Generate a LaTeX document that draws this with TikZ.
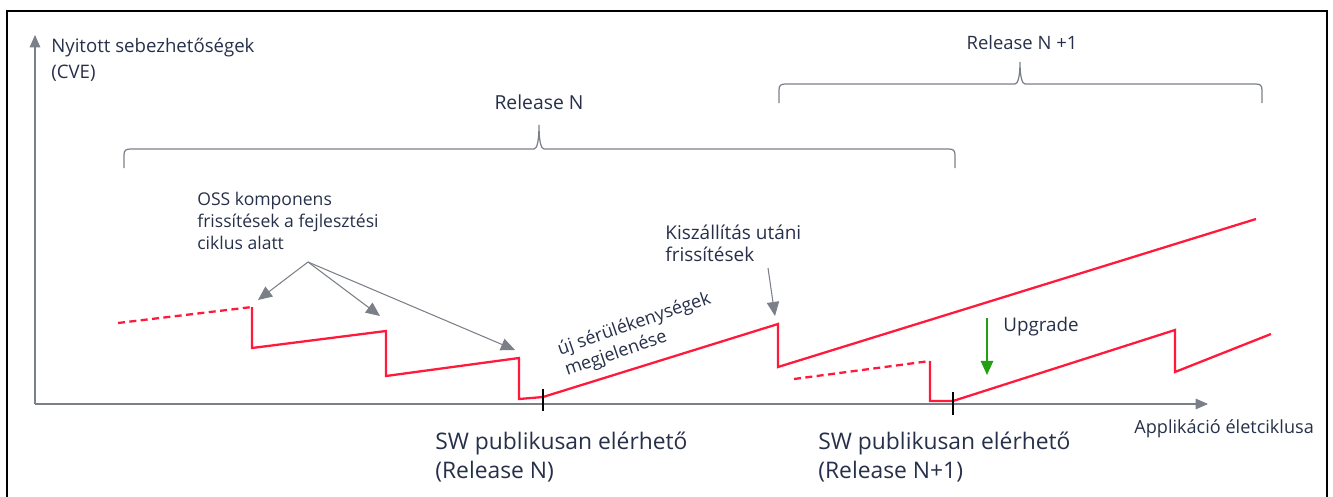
\documentclass[tikz,border=0pt]{standalone}
\usepackage{fontspec}
\setmainfont{Open Sans}
\usepackage{tikz}
\usetikzlibrary{arrows.meta,calc}
\definecolor{txtblue}{HTML}{27304A}
\definecolor{axgray}{HTML}{7B8088}
\definecolor{cvered}{HTML}{FF1A3C}
\definecolor{upgreen}{HTML}{22A012}
\tikzset{
  lbl/.style={text=txtblue, inner sep=0pt, align=left, font=\fontsize{10}{14}\selectfont},
  axis/.style={draw=axgray, line width=0.6pt, -{Triangle[length=7pt,width=6pt]}},
  note/.style={draw=axgray, line width=0.6pt, -{Triangle[length=8pt,width=7pt]}},
  cve/.style={draw=cvered, line width=1.3pt},
  cvedash/.style={cve, dash pattern=on 4pt off 2.5pt},
  relbrace/.style={draw=axgray, line width=0.7pt},
  tick/.style={draw=black, line width=0.8pt}
}
% release brace: left x, right x, tip x, bottom y, flat y, tip y
\newcommand{\relbrace}[6]{%
  \draw[relbrace] (#1,#4) -- (#1,#5+6) .. controls (#1,#5+1) and (#1+2,#5) .. (#1+7,#5)
    -- (#3-5,#5) .. controls (#3-2,#5) and (#3,#5-8) .. (#3,#6)
    .. controls (#3,#5-8) and (#3+2,#5) .. (#3+5,#5)
    -- (#2-7,#5) .. controls (#2-2,#5) and (#2,#5+1) .. (#2,#5+6) -- (#2,#4);}
\begin{document}
\begin{tikzpicture}[x=0.02cm, y=-0.02cm]
\useasboundingbox (0,0) rectangle (1333,497);
% frame
\draw[black, line width=0.7pt] (7,497) -- (7,11) -- (1327,11) -- (1327,497);

% axes
\coordinate (O) at (35,404);
\coordinate (ytop) at (35,35);
\coordinate (xend) at (1208,404);
\draw[axis] (O) -- (ytop);
\draw[axis] (O) -- (xend);
\node[lbl, anchor=base west, font=\fontsize{10.6}{14.5}\selectfont] (ylab) at (51,78) {Nyitott sebezhetőségek\\(CVE)};
\node[lbl, anchor=base west, font=\fontsize{10.3}{12}\selectfont] (xlab) at (1134,433) {Applikáció életciklusa};

% releases
\relbrace{124}{955}{539}{168}{149}{125}
\node[lbl, anchor=base, font=\fontsize{11}{13}\selectfont] (relN) at (539,109) {Release N};
\relbrace{779}{1262}{1020}{103}{84}{62}
\node[lbl, anchor=base, font=\fontsize{10.5}{13}\selectfont] (relN1) at (1022,50) {Release N +1};

% release N curve
\draw[cvedash] (118,323) -- (252,307);
\draw[cve] (252,307) -- (252,348) -- (386,331) -- (386,376) -- (519,358) -- (519,399)
  -- (543,397) -- (778,324) -- (778,367) -- (1256,219);
% release N+1 curve
\draw[cvedash] (794,379) -- (930,361);
\draw[cve] (930,361) -- (930,401) -- (953,401) -- (1175,330) -- (1175,372) -- (1271,334);

% publication ticks
\coordinate (pubN) at (543,404);
\coordinate (pubN1) at (953,404);
\draw[tick] ($(pubN)+(0,-15)$) -- ($(pubN)+(0,7)$);
\draw[tick] ($(pubN1)+(0,-12)$) -- ($(pubN1)+(0,11)$);
\node[lbl, anchor=base west, font=\fontsize{13}{16.5}\selectfont] (swN) at (435,478) {SW publikusan elérhető\\(Release N)};
\node[lbl, anchor=base west, font=\fontsize{13}{16.5}\selectfont] (swN1) at (818,478) {SW publikusan elérhető\\(Release N+1)};

% annotations
\node[lbl, anchor=base west, font=\fontsize{10}{12.5}\selectfont] (oss) at (197,249) {OSS komponens\\frissítések a fejlesztési\\ciklus alatt};
\coordinate (ossfrom) at (308,262);
\coordinate (oss1) at (258,300);
\coordinate (oss2) at (380,316);
\coordinate (oss3) at (515,350);
\foreach \t in {oss1,oss2,oss3}
  \draw[note] (ossfrom) -- (\t);

\node[lbl, anchor=base west, font=\fontsize{10.8}{12.5}\selectfont] (ship) at (665,261) {Kiszállítás utáni\\frissítések};
\coordinate (shipfrom) at (768,268);
\coordinate (shipto) at (775,316);
\draw[note] (shipfrom) -- (shipto);

\node[lbl, anchor=base west, rotate=19, font=\fontsize{10.3}{12.5}\selectfont] (newvuln) at (567,376) {új sérülékenységek\\megjelenése};

\coordinate (upfrom) at (987,318);
\coordinate (upto) at (987,375);
\draw[draw=upgreen, line width=1pt, -{Triangle[length=8pt,width=7pt]}] (upfrom) -- (upto);
\node[lbl, anchor=base west, font=\fontsize{10.7}{12}\selectfont] (upg) at (1003,331) {Upgrade};
\end{tikzpicture}
\end{document}
